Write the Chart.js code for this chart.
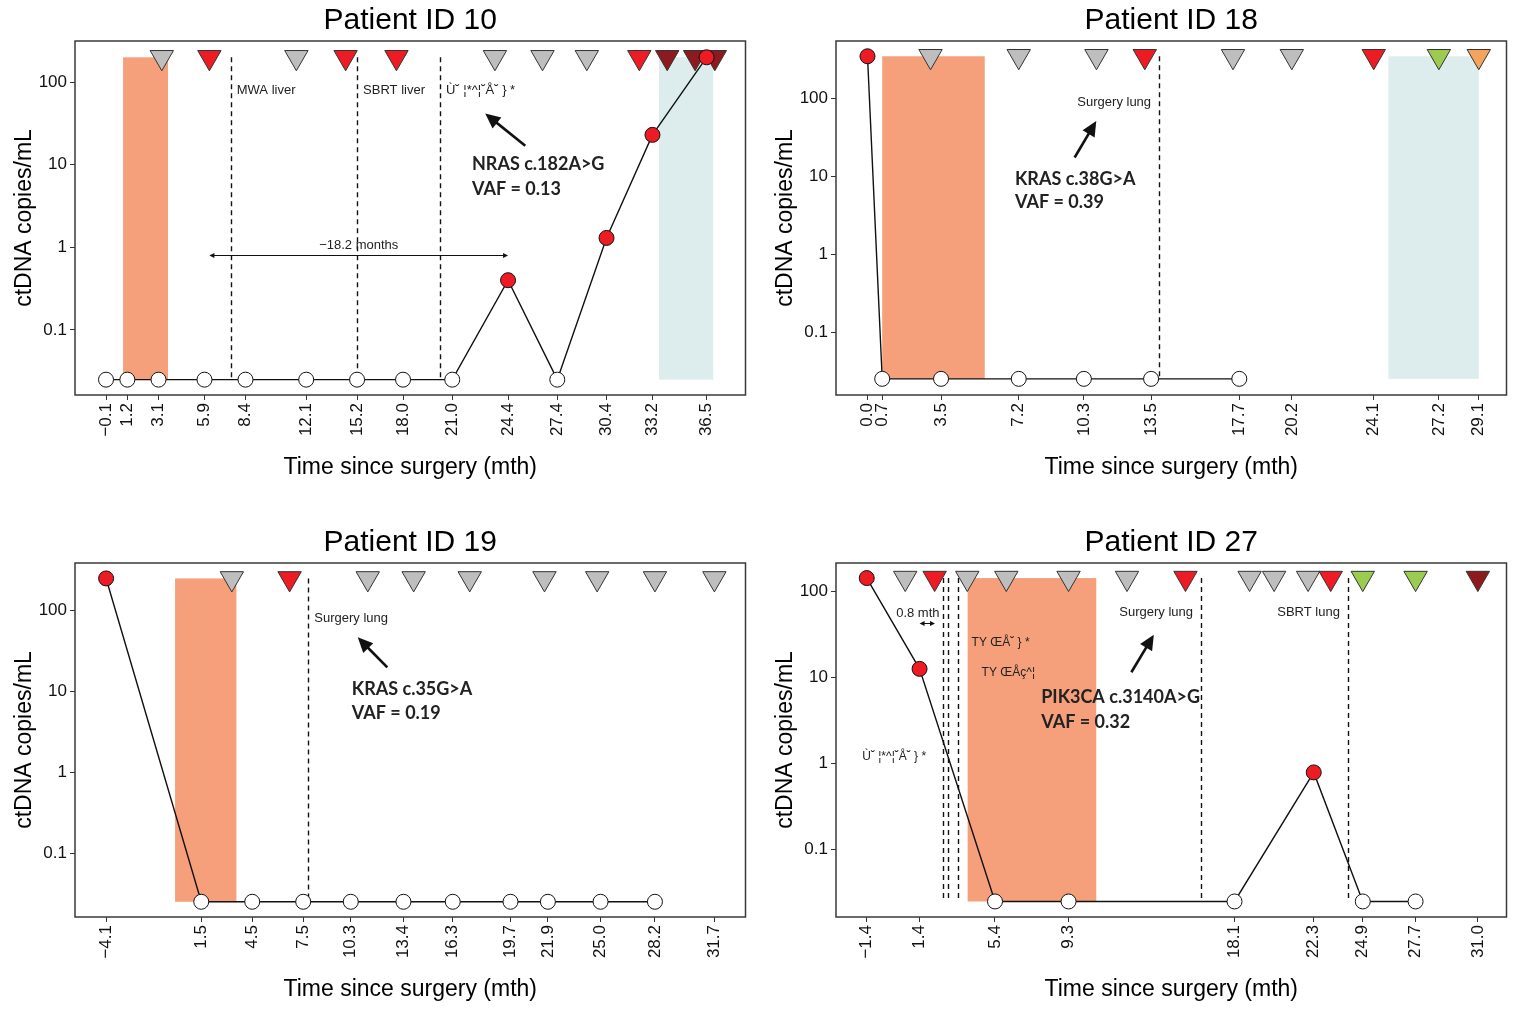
<!DOCTYPE html>
<html><head><meta charset="utf-8">
<script src="https://cdn.jsdelivr.net/npm/chart.js@4.4.1/dist/chart.umd.min.js"></script>
<style>
html,body{margin:0;padding:0;background:#fff;}
body{width:1520px;height:1010px;position:relative;overflow:hidden;}
.panel{position:absolute;width:760px;height:488px;}
</style></head><body>
<div class="panel" style="left:0;top:0"><canvas id="c10"></canvas></div>
<div class="panel" style="left:761px;top:0"><canvas id="c18"></canvas></div>
<div class="panel" style="left:0;top:522px"><canvas id="c19"></canvas></div>
<div class="panel" style="left:761px;top:522px"><canvas id="c27"></canvas></div>
<script>
// ---------------- DATA ----------------
// Patient 10
const p10_ticks = [-0.1, 1.2, 3.1, 5.9, 8.4, 12.1, 15.2, 18.0, 21.0, 24.4, 27.4, 30.4, 33.2, 36.5];
const p10_times = [-0.1, 1.2, 3.1, 5.9, 8.4, 12.1, 15.2, 18.0, 21.0, 24.4, 27.4, 30.4, 33.2, 36.5];
const p10_values = [0.025, 0.025, 0.025, 0.025, 0.025, 0.025, 0.025, 0.025, 0.025, 0.4, 0.025, 1.3, 23, 200];
const p10_detected = [0, 0, 0, 0, 0, 0, 0, 0, 0, 1, 0, 1, 1, 1];
const p10_treatTimes = [3.3, 6.2, 11.5, 14.5, 17.6, 23.6, 26.5, 29.2, 32.4, 34.1, 35.8, 37.0];
const p10_treatKinds = ['grey', 'red', 'grey', 'red', 'red', 'grey', 'grey', 'grey', 'red', 'darkred', 'darkred', 'darkred'];
const p10_spanStart = [0.94, 33.6];
const p10_spanEnd = [3.68, 36.9];
const p10_spanKind = ['salmon', 'lightblue'];
const p10_eventTimes = [7.5, 15.2, 20.25];
const p10_eventLabels = ['MWA liver', 'SBRT liver', 'Ù˘ ¦*^¦˘Å˘ } *'];

// Patient 18
const p18_ticks = [0.0, 0.7, 3.5, 7.2, 10.3, 13.5, 17.7, 20.2, 24.1, 27.2, 29.1];
const p18_times = [0.0, 0.7, 3.5, 7.2, 10.3, 13.5, 17.7];
const p18_values = [350, 0.025, 0.025, 0.025, 0.025, 0.025, 0.025];
const p18_detected = [1, 0, 0, 0, 0, 0, 0];
const p18_treatTimes = [3.0, 7.2, 10.9, 13.2, 17.4, 20.2, 24.1, 27.2, 29.1];
const p18_treatKinds = ['grey', 'grey', 'grey', 'red', 'grey', 'grey', 'red', 'green', 'orange'];
const p18_spanStart = [0.7, 24.8];
const p18_spanEnd = [5.58, 29.1];
const p18_spanKind = ['salmon', 'lightblue'];
const p18_eventTimes = [13.88];
const p18_eventLabels = ['Surgery lung'];

// Patient 19
const p19_ticks = [-4.1, 1.5, 4.5, 7.5, 10.3, 13.4, 16.3, 19.7, 21.9, 25.0, 28.2, 31.7];
const p19_times = [-4.1, 1.5, 4.5, 7.5, 10.3, 13.4, 16.3, 19.7, 21.9, 25.0, 28.2];
const p19_values = [250, 0.025, 0.025, 0.025, 0.025, 0.025, 0.025, 0.025, 0.025, 0.025, 0.025];
const p19_detected = [1, 0, 0, 0, 0, 0, 0, 0, 0, 0, 0];
const p19_treatTimes = [3.3, 6.7, 11.3, 14.0, 17.3, 21.7, 24.8, 28.2, 31.7];
const p19_treatKinds = ['grey', 'red', 'grey', 'grey', 'grey', 'grey', 'grey', 'grey', 'grey'];
const p19_spanStart = [-0.04];
const p19_spanEnd = [3.57];
const p19_spanKind = ['salmon'];
const p19_eventTimes = [7.8];
const p19_eventLabels = ['Surgery lung'];

// Patient 27
const p27_ticks = [-1.4, 1.4, 5.4, 9.3, 18.1, 22.3, 24.9, 27.7, 31.0];
const p27_times = [-1.4, 1.4, 5.4, 9.3, 18.1, 22.3, 24.9, 27.7];
const p27_values = [143, 12.6, 0.025, 0.025, 0.025, 0.79, 0.025, 0.025];
const p27_detected = [1, 1, 0, 0, 0, 1, 0, 0];
const p27_treatTimes = [0.64, 2.2, 3.93, 6.0, 9.3, 12.4, 15.5, 18.9, 20.2, 22.0, 23.2, 24.9, 27.7, 31.0];
const p27_treatKinds = ['grey', 'red', 'grey', 'grey', 'grey', 'grey', 'red', 'grey', 'grey', 'grey', 'red', 'green', 'green', 'darkred'];
const p27_spanStart = [3.95];
const p27_spanEnd = [10.77];
const p27_spanKind = ['salmon'];
const p27_eventTimes = [2.62, 2.91, 3.44, 16.32, 24.11];
const p27_eventLabels = ['', '', '', 'Surgery lung', 'SBRT lung'];

// ---------------- STYLES ----------------
const TREAT_COLORS = {grey: '#BEBEBE', red: '#ED1C24', darkred: '#8C1A1E', green: '#9BCB50', orange: '#F5A45E'};
const SPAN_COLORS = {salmon: '#F5A07B', lightblue: '#DDEDED'};
const DET_COLOR = '#ED1C24';
const FONT = "'Liberation Sans', Arial, sans-serif";
const BOLD_FONT = "bold 18px Lato, 'Open Sans', sans-serif";

const PANELS = [
  {id: 'c10', title: 'Patient ID 10', ticks: p10_ticks, times: p10_times, values: p10_values, detected: p10_detected,
   treatTimes: p10_treatTimes, treatKinds: p10_treatKinds, spanStart: p10_spanStart, spanEnd: p10_spanEnd, spanKind: p10_spanKind,
   events: p10_eventTimes, eventLabels: p10_eventLabels, eventAlign: 'left', eventLabelY: 80,
   xMin: -1.99, xMax: 38.87, yMin: 0.0163, yMax: 315,
   notes: [{text: 'NRAS c.182A>G', x: 22.2, y: 10.26}, {text: 'VAF = 0.13', x: 22.2, y: 5.0}],
   arrow: {x1: 25.45, y1: 17.0, x2: 23.01, y2: 41.6},
   dbl: {x1: 6.2, x2: 24.4, y: 0.806, text: '\u221218.2 months'},
   small: []},
  {id: 'c18', title: 'Patient ID 18', ticks: p18_ticks, times: p18_times, values: p18_values, detected: p18_detected,
   treatTimes: p18_treatTimes, treatKinds: p18_treatKinds, spanStart: p18_spanStart, spanEnd: p18_spanEnd, spanKind: p18_spanKind,
   events: p18_eventTimes, eventLabels: p18_eventLabels, eventAlign: 'right', eventLabelY: 90.5,
   xMin: -1.50, xMax: 30.42, yMin: 0.0155, yMax: 550,
   notes: [{text: 'KRAS c.38G>A', x: 7.02, y: 9.2}, {text: 'VAF = 0.39', x: 7.02, y: 4.6}],
   arrow: {x1: 9.86, y1: 17.5, x2: 10.89, y2: 51.5},
   dbl: null, small: []},
  {id: 'c19', title: 'Patient ID 19', ticks: p19_ticks, times: p19_times, values: p19_values, detected: p19_detected,
   treatTimes: p19_treatTimes, treatKinds: p19_treatKinds, spanStart: p19_spanStart, spanEnd: p19_spanEnd, spanKind: p19_spanKind,
   events: p19_eventTimes, eventLabels: p19_eventLabels, eventAlign: 'left', eventLabelY: 78.9,
   xMin: -5.93, xMax: 33.53, yMin: 0.0162, yMax: 388,
   notes: [{text: 'KRAS c.35G>A', x: 10.36, y: 10.56}, {text: 'VAF = 0.19', x: 10.36, y: 5.4}],
   arrow: {x1: 12.45, y1: 19.8, x2: 10.71, y2: 46.7},
   dbl: null, small: []},
  {id: 'c27', title: 'Patient ID 27', ticks: p27_ticks, times: p27_times, values: p27_values, detected: p27_detected,
   treatTimes: p27_treatTimes, treatKinds: p27_treatKinds, spanStart: p27_spanStart, spanEnd: p27_spanEnd, spanKind: p27_spanKind,
   events: p27_eventTimes, eventLabels: p27_eventLabels, eventAlign: 'right', eventLabelY: 57.7,
   xMin: -3.03, xMax: 32.52, yMin: 0.0165, yMax: 214,
   notes: [{text: 'PIK3CA c.3140A>G', x: 7.85, y: 5.9}, {text: 'VAF = 0.32', x: 7.85, y: 3.06}],
   arrow: {x1: 12.63, y1: 11.5, x2: 13.82, y2: 31.4},
   dbl: {x1: 1.4, x2: 2.22, y: 42.6, text: '0.8 mth', labelX: 1.31},
   small: [{text: 'TY ŒÅ˘ } *', x: 4.16, y: 25.4}, {text: 'TY ŒÅç^¦', x: 4.69, y: 11.3}, {text: 'Ù˘ ¦*^¦˘Å˘ } *', x: -1.64, y: 1.2}]}
];

function fmtTick(v) {
  const s = Math.abs(v).toFixed(1);
  return v < 0 ? '\u2212' + s : s;
}

function drawArrowHead(ctx, x1, y1, x2, y2, len, half) {
  const ang = Math.atan2(y2 - y1, x2 - x1);
  ctx.beginPath();
  ctx.moveTo(x2, y2);
  ctx.lineTo(x2 - len * Math.cos(ang) + half * Math.sin(ang), y2 - len * Math.sin(ang) - half * Math.cos(ang));
  ctx.lineTo(x2 - len * Math.cos(ang) - half * Math.sin(ang), y2 - len * Math.sin(ang) + half * Math.cos(ang));
  ctx.closePath();
  ctx.fill();
}

function makeOverlay(P) {
  const level = Math.max(...P.values);
  const floor = Math.min(...P.values);
  return {
    id: 'overlay',
    beforeDatasetsDraw(chart) {
      const {ctx, chartArea: a, scales: {x, y}} = chart;
      ctx.save();
      ctx.beginPath(); ctx.rect(a.left, a.top, a.right - a.left, a.bottom - a.top); ctx.clip();
      const top = y.getPixelForValue(level), bot = y.getPixelForValue(floor);
      P.spanStart.forEach((s, i) => {
        const x0 = x.getPixelForValue(s), x1 = x.getPixelForValue(P.spanEnd[i]);
        ctx.fillStyle = SPAN_COLORS[P.spanKind[i]];
        ctx.fillRect(x0, top, x1 - x0, bot - top);
      });
      ctx.setLineDash([5, 4]); ctx.lineWidth = 1.4; ctx.strokeStyle = '#111';
      P.events.forEach(t => {
        const px = Math.round(x.getPixelForValue(t)) + 0.5;
        ctx.beginPath(); ctx.moveTo(px, top); ctx.lineTo(px, bot); ctx.stroke();
      });
      ctx.setLineDash([]);
      // event labels
      ctx.fillStyle = '#222'; ctx.font = '13px ' + FONT; ctx.textBaseline = 'middle';
      P.events.forEach((t, i) => {
        const lab = P.eventLabels[i]; if (!lab) return;
        const px = x.getPixelForValue(t);
        const py = y.getPixelForValue(P.eventLabelY);
        if (P.eventAlign === 'left') { ctx.textAlign = 'left'; ctx.fillText(lab, px + 6, py); }
        else { ctx.textAlign = 'right'; ctx.fillText(lab, px - 8, py); }
      });
      ctx.font = '12px ' + FONT; ctx.textAlign = 'left';
      P.small.forEach(n => ctx.fillText(n.text, x.getPixelForValue(n.x), y.getPixelForValue(n.y)));
      // double arrow
      if (P.dbl) {
        const d = P.dbl;
        const xa = x.getPixelForValue(d.x1), xb = x.getPixelForValue(d.x2), py = Math.round(y.getPixelForValue(d.y)) + 0.5;
        ctx.strokeStyle = '#111'; ctx.fillStyle = '#111'; ctx.lineWidth = 1;
        ctx.beginPath(); ctx.moveTo(xa + 3, py); ctx.lineTo(xb - 3, py); ctx.stroke();
        drawArrowHead(ctx, xb - 5, py, xb, py, 5, 2.5);
        drawArrowHead(ctx, xa + 5, py, xa, py, 5, 2.5);
        ctx.font = '13px ' + FONT; ctx.textAlign = 'center'; ctx.fillStyle = '#222';
        const lx = d.labelX !== undefined ? x.getPixelForValue(d.labelX) : (xa + xb) / 2;
        ctx.fillText(d.text, lx, py - 10);
      }
      // mutation arrow
      const ar = P.arrow;
      const ax1 = x.getPixelForValue(ar.x1), ay1 = y.getPixelForValue(ar.y1);
      const ax2 = x.getPixelForValue(ar.x2), ay2 = y.getPixelForValue(ar.y2);
      const ang = Math.atan2(ay2 - ay1, ax2 - ax1);
      ctx.strokeStyle = '#111'; ctx.fillStyle = '#111'; ctx.lineWidth = 2.6;
      ctx.beginPath(); ctx.moveTo(ax1, ay1); ctx.lineTo(ax2 - 10 * Math.cos(ang), ay2 - 10 * Math.sin(ang)); ctx.stroke();
      drawArrowHead(ctx, ax1, ay1, ax2, ay2, 15, 7);
      // mutation notes
      ctx.font = BOLD_FONT; ctx.textAlign = 'left'; ctx.fillStyle = '#222';
      P.notes.forEach(n => ctx.fillText(n.text, x.getPixelForValue(n.x), y.getPixelForValue(n.y)));
      ctx.restore();
    },
    afterDatasetsDraw(chart) {
      const {ctx, chartArea: a} = chart;
      ctx.save();
      ctx.strokeStyle = '#3a3a3a'; ctx.lineWidth = 1.5;
      ctx.strokeRect(a.left, a.top, a.right - a.left, a.bottom - a.top);
      ctx.restore();
    }
  };
}

PANELS.forEach(P => {
  const level = Math.max(...P.values);
  new Chart(document.getElementById(P.id), {
    type: 'scatter',
    data: {
      datasets: [
        {label: 'ctDNA', data: P.times.map((t, i) => ({x: t, y: P.values[i]})), showLine: true,
         borderColor: '#111', borderWidth: 1.4,
         pointRadius: 7.5, pointHoverRadius: 7.5, pointBorderWidth: 1, pointBorderColor: '#111',
         pointBackgroundColor: P.detected.map(d => d ? DET_COLOR : '#ffffff')},
        {label: 'treatment', data: P.treatTimes.map(t => ({x: t, y: level})), showLine: false,
         pointStyle: 'triangle', rotation: 180, pointRadius: 13.5, pointHoverRadius: 13.5,
         pointBorderWidth: 1, pointBorderColor: '#333',
         pointBackgroundColor: P.treatKinds.map(k => TREAT_COLORS[k])}
      ]
    },
    options: {
      responsive: true, maintainAspectRatio: false, animation: false,
      layout: {padding: {left: 0, right: 13, top: 0, bottom: 0}},
      plugins: {
        legend: {display: false}, tooltip: {enabled: false},
        title: {display: true, text: P.title, fullSize: false, color: '#000',
                font: {family: FONT, size: 30, weight: 'normal'}, padding: {top: 3, bottom: 2}}
      },
      scales: {
        x: {type: 'linear', min: P.xMin, max: P.xMax,
            afterBuildTicks: s => { s.ticks = P.ticks.map(v => ({value: v})); },
            afterFit: s => { s.height = 93; },
            ticks: {autoSkip: false, minRotation: 90, maxRotation: 90, padding: 3, color: '#111',
                    font: {family: FONT, size: 17}, callback: v => fmtTick(v)},
            grid: {drawOnChartArea: false, drawTicks: true, tickLength: 5, tickColor: '#333'},
            border: {display: false},
            title: {display: true, text: 'Time since surgery (mth)', color: '#000',
                    font: {family: FONT, size: 23}, padding: {top: 0, bottom: 7}}},
        y: {type: 'logarithmic', min: P.yMin, max: P.yMax,
            afterBuildTicks: s => { s.ticks = [0.1, 1, 10, 100].map(v => ({value: v})); },
            afterFit: s => { s.width = 75; },
            ticks: {padding: 3, color: '#111', font: {family: FONT, size: 17}, callback: v => String(v)},
            grid: {drawOnChartArea: false, drawTicks: true, tickLength: 5, tickColor: '#333'},
            border: {display: false},
            title: {display: true, text: 'ctDNA copies/mL', color: '#000',
                    font: {family: FONT, size: 23}, padding: {top: 11, bottom: 0}}}
      }
    },
    plugins: [makeOverlay(P)]
  });
});
</script>
</body></html>
